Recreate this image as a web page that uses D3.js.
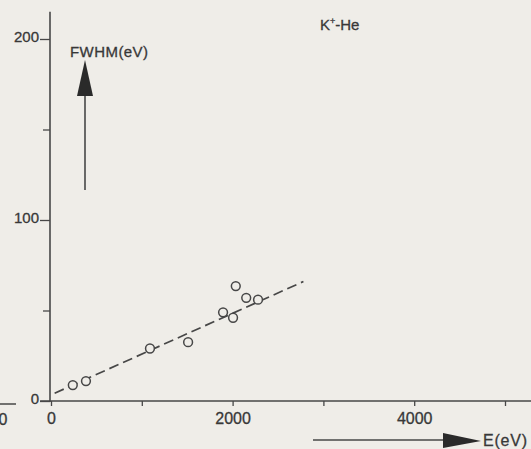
<!DOCTYPE html>
<html>
<head>
<meta charset="utf-8">
<script src="https://cdn.jsdelivr.net/npm/d3@7"></script>
<style>
  body { margin: 0; background: #efede8; }
  svg { display: block; font-family: "Liberation Sans", Arial, sans-serif; }
  .ink { stroke: #474747; }
  text { fill: #383838; stroke: #383838; stroke-width: 0.3px; }
</style>
</head>
<body>
<div id="chart"></div>
<script>
(function() {

  // -----------------------------
  // 1. DATA
  // -----------------------------
  const energy = [240, 385, 1090, 1510, 1895, 2005, 2035, 2150, 2280];   // E (eV)
  const fwhm   = [8.8, 11, 29, 32.5, 49, 46, 63.5, 57, 56];             // FWHM (eV)
  const fitE    = [40, 2780];     // dashed fit line, E ends
  const fitFwhm = [4.3, 66];      // dashed fit line, FWHM ends
  const xTicks = [0, 1000, 2000, 3000, 4000, 5000];
  const xLabels = [0, 2000, 4000];
  const yTicks = [0, 50, 100, 150, 200];
  const yLabels = [0, 100, 200];

  // -----------------------------
  // 2. SVG SETUP
  // -----------------------------
  const width = 531, height = 449;
  const svg = d3.select("#chart").append("svg")
      .attr("width", width)
      .attr("height", height);

  const x = d3.scaleLinear().domain([0, 5000]).range([51, 505]);
  const y = d3.scaleLinear().domain([0, 200]).range([401, 39]);

  // -----------------------------
  // 3. AXES
  // -----------------------------
  // axis lines (longer than the tick range)
  svg.append("line").attr("class", "ink")
      .attr("x1", x(0) - 1).attr("x2", x(0) - 1)
      .attr("y1", y(215)).attr("y2", y(-0.5))
      .attr("stroke-width", 1.6);
  svg.append("line").attr("class", "ink")
      .attr("x1", x(-120)).attr("x2", width)
      .attr("y1", y(0)).attr("y2", y(0))
      .attr("stroke-width", 1.6);

  const xAxis = svg.append("g")
      .attr("transform", `translate(0,${y(0)})`)
      .call(d3.axisBottom(x).tickValues(xTicks).tickSize(5).tickSizeOuter(0).tickPadding(7)
        .tickFormat(d => xLabels.includes(d) ? d : ""));
  xAxis.select(".domain").remove();
  xAxis.selectAll(".tick line").attr("class", "ink").attr("stroke-width", 1.3);
  xAxis.selectAll("text").style("font-size", "16px").attr("fill", null);

  const yAxis = svg.append("g")
      .attr("transform", `translate(${x(0) - 1},0)`)
      .call(d3.axisLeft(y).tickValues(yTicks).tickSize(10).tickSizeOuter(0).tickPadding(1)
        .tickFormat(d => yLabels.includes(d) ? d : ""));
  yAxis.select(".domain").remove();
  yAxis.selectAll(".tick line").attr("class", "ink").attr("stroke-width", 1.3)
      .attr("x2", d => yLabels.includes(d) ? -10 : -7);
  yAxis.selectAll("text").style("font-size", "15px").attr("fill", null)
      .attr("dy", "0.15em");

  // -----------------------------
  // 4. FIT LINE & POINTS
  // -----------------------------
  svg.append("line").attr("class", "ink")
      .attr("x1", x(fitE[0])).attr("y1", y(fitFwhm[0]))
      .attr("x2", x(fitE[1])).attr("y2", y(fitFwhm[1]))
      .attr("stroke-width", 1.7)
      .attr("stroke-dasharray", "10,5");

  svg.selectAll(".pt")
      .data(energy.map((e, i) => ({e, f: fwhm[i]})))
      .enter().append("circle")
      .attr("class", "pt ink")
      .attr("cx", d => x(d.e))
      .attr("cy", d => y(d.f))
      .attr("r", 4.4)
      .attr("fill", "#efede8")
      .attr("stroke-width", 1.5);

  // -----------------------------
  // 5. ARROWS & LABELS
  // -----------------------------
  // FWHM arrow
  svg.append("line").attr("class", "ink")
      .attr("x1", 85).attr("x2", 85).attr("y1", 190).attr("y2", 92)
      .attr("stroke-width", 1.6);
  svg.append("path")
      .attr("d", "M77,96 L85,60 L93,96 Z")
      .attr("fill", "#2a2a2a");
  svg.append("text")
      .attr("x", 70).attr("y", 57)
      .style("font-size", "15px")
      .attr("textLength", 78)
      .text("FWHM(eV)");

  // E arrow
  svg.append("line").attr("class", "ink")
      .attr("x1", 313).attr("x2", 446).attr("y1", 440).attr("y2", 440)
      .attr("stroke-width", 1.6);
  svg.append("path")
      .attr("d", "M443,433 L481,441 L443,448 Z")
      .attr("fill", "#2a2a2a");
  svg.append("text")
      .attr("x", 483).attr("y", 446)
      .style("font-size", "16px")
      .style("letter-spacing", "0.8px")
      .text("E(eV)");

  // Title
  const title = svg.append("text")
      .attr("x", 320).attr("y", 30)
      .style("font-size", "15px");
  title.append("tspan").text("K");
  title.append("tspan").attr("dy", -6).style("font-size", "9px").text("+");
  title.append("tspan").attr("dy", 6).text("-He");

  // fragment of the neighbouring figure at the left edge
  svg.append("line").attr("class", "ink")
      .attr("x1", 0).attr("x2", 16).attr("y1", 404).attr("y2", 404)
      .attr("stroke-width", 1.5);
  svg.append("text")
      .attr("x", 3).attr("y", 425)
      .attr("text-anchor", "middle")
      .style("font-size", "16px")
      .text("0");

})();
</script>
</body>
</html>
